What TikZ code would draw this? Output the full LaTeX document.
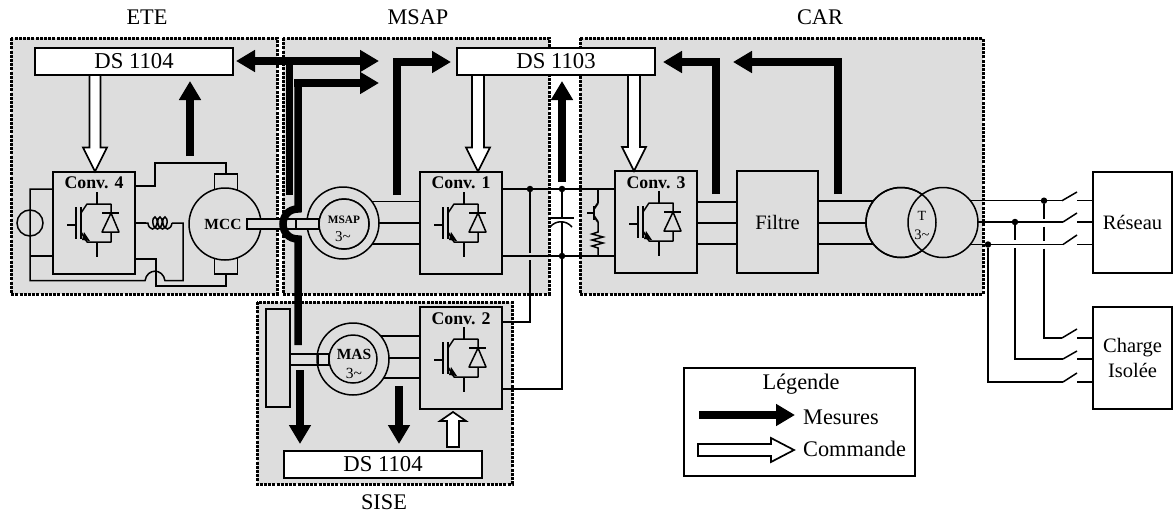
\documentclass[tikz,border=0pt]{standalone}
\usepackage{fontspec}
\setmainfont{Liberation Serif}
\usetikzlibrary{arrows.meta,calc,decorations.pathmorphing}
\definecolor{panel}{HTML}{DDDDDD}
\newcommand{\fs}[1]{\fontsize{#1}{#1}\selectfont}
\newcommand{\tril}{3\string~}
\tikzset{
  zone/.style={fill=panel,draw=black,line width=3pt,dash pattern=on 3pt off 1.2pt},
  wire/.style={line width=1.5pt},
  box/.style={draw=black,line width=1.6pt,inner sep=0pt,outer sep=0pt,anchor=north west},
  convbox/.style={box,fill=panel,minimum width=82pt,minimum height=102pt},
  dsbox/.style={box,fill=white,minimum width=198pt,minimum height=27pt,font=\fs{22.7}},
  dot/.style={circle,fill=black,inner sep=0pt,minimum size=6.5pt},
  ring/.style={circle,draw=black,line width=1.5pt,fill=panel,inner sep=0pt,outer sep=0pt},
  shaft/.style={draw=black,line width=1.5pt,fill=panel},
  meas/.style={line width=7.5pt,draw=black,-{Triangle[length=19pt,width=21pt]}},
  measb/.style={line width=7.5pt,draw=black,{Triangle[length=19pt,width=21pt]}-{Triangle[length=19pt,width=21pt]}},
  measl/.style={line width=7.5pt,draw=black},
  cmd/.style={draw=black,line width=1.7pt,fill=white,line join=miter},
  lab/.style={inner sep=0pt,font=\fs{22.3}},
  convlab/.style={inner sep=0pt,font=\fs{17.8}\bfseries},
}
\newcommand{\igbt}[2]{%
\begin{scope}[shift={(#1,#2)},wire,line join=round]
  \draw (44,20) -- (44,32);
  \draw (44,70) -- (44,85);
  \draw (14,53) -- (23,53);
  \draw (23,35) -- (23,67);
  \draw[line width=2pt] (28,35) -- (28,67);
  \draw (28,41) -- (34,32) -- (58,32) -- (58,41);
  \draw (49,41) -- (66,41);
  \draw (58,41) -- (49,60) -- (66,60) -- cycle;
  \draw (58,60) -- (58,70) -- (34,70) -- (28,60);
  \fill (31,60) -- (37,69) -- (29,68) -- cycle;
\end{scope}}
\newcommand{\cmdarrow}[5]{%
  \draw[cmd] ($(#1)!#3!90:(#2)$) -- ($($(#2)!#5!(#1)$)!#3!90:(#2)$) -- ($($(#2)!#5!(#1)$)!#4!90:(#2)$) -- (#2)
   -- ($($(#2)!#5!(#1)$)!#4!-90:(#2)$) -- ($($(#2)!#5!(#1)$)!#3!-90:(#2)$) -- ($(#1)!#3!-90:(#2)$) -- cycle;}
\begin{document}
\begin{tikzpicture}[x=1pt,y=-1pt]
\useasboundingbox (0,0) rectangle (1173,512);
% zones
\draw[zone] (11,38) rectangle (277,294);
\draw[zone] (283,38) rectangle (549,294);
\draw[zone] (580,38) rectangle (983,294);
\draw[zone] (257,302) rectangle (512,484);
% zone titles
\node[lab] (tete) at (147,17) {ETE};
\node[lab] (tmsap) at (418,17) {MSAP};
\node[lab] (tcar) at (820,17) {CAR};
\node[lab] (tsise) at (384,502) {SISE};
% boxes
\node[dsbox] (ds4) at (35,48) {DS 1104};
\node[dsbox] (ds3) at (457,48) {DS 1103};
\node[dsbox] (ds2) at (284,451) {DS 1104};
\node[convbox] (c4) at (53,172) {};
\node[convbox] (c1) at (420,172) {};
\node[convbox] (c3) at (615,171) {};
\node[convbox] (c2) at (420,307) {};
\node[box,fill=panel,minimum width=81pt,minimum height=102pt,font=\fs{20.5}] (filt) at (737,171) {Filtre};
\node[box,fill=white,minimum width=79pt,minimum height=101pt,font=\fs{20.5}] (res) at (1093,172) {Réseau};
\node[box,fill=white,minimum width=79pt,minimum height=102pt,font=\fs{20.5},align=center] (chg) at (1093,307) {Charge\\[5pt]Isolée};
\node[box,fill=white,minimum width=231pt,minimum height=108pt] (leg) at (684,368) {};
\node[box,draw=black,fill=panel,minimum width=24pt,minimum height=98pt] (fly) at (266,309) {};
% conv labels + switches
\node[convlab] (l4) at (94,183) {Conv. 4};
\node[convlab] (l1) at (461,183) {Conv. 1};
\node[convlab] (l3) at (656,183) {Conv. 3};
\node[convlab] (l2) at (461,319) {Conv. 2};
\igbt{53}{172}\igbt{420}{172}\igbt{615}{171}\igbt{420}{307}
% named junctions
\node[dot] (j1) at (530,189) {};
\node[dot] (j2) at (562,189) {};
\node[dot] (j3) at (562,256) {};
\node[dot] (j4) at (1044,200.7) {};
\node[dot] (j5) at (1015,222) {};
\node[dot] (j6) at (988,244.5) {};
\coordinate (brtop) at (226,174);
\coordinate (brbot) at (226,273);
% === wiring around Conv. 4
\node[circle,draw=black,line width=1.5pt,minimum size=26pt,inner sep=0pt] (src) at (30,223) {};
\coordinate (w1) at (53,189);
\coordinate (w2) at (53,256);
\draw[wire] (w1) -- (w1 -| src) -- (30,280.7) -- (145,280.7) .. controls (147,268) and (163,268) .. (165,280.7) -- (183,280.7) -- (183,223) -- (172,223);
\draw[wire] (w2) -- (w2 -| src);
\draw[wire,decorate,decoration={coil,aspect=0.55,segment length=5pt,amplitude=6pt}] (172,223) -- (146,223);
\draw[wire] (146,223) -- (135,223);
\draw[wire] (135,186) -- (155,186) -- (155,163) -- (226,163) -- (brtop);
\draw[wire] (135,259) -- (156,259) -- (156,286) -- (226,286) -- (brbot);
% MCC
\node[box,fill=panel,minimum width=23pt,minimum height=17pt] (bt) at (214.5,174) {};
\node[box,fill=panel,minimum width=23pt,minimum height=17pt] (bb) at (214.5,257) {};
\node[ring,minimum size=72pt] (mcc) at (225,224) {};
\node[inner sep=0pt,font=\fs{15.5}\bfseries] (lmcc) at (223,224) {MCC};
% shafts
\draw[shaft] (247,219) rectangle (319,229);
% MSAP wires
\coordinate (a1) at (420,201.7); \coordinate (a2) at (420,223); \coordinate (a3) at (420,244);
\draw[wire] (a1) -- (a1 -| 350,0);
\draw[wire] (a2) -- (a2 -| 350,0);
\draw[wire] (a3) -- (a3 -| 350,0);
\path[draw=black,line width=1.5pt,even odd rule,fill=panel] (343,223) circle[radius=36] (344,224) circle[radius=25];
\draw[shaft] (296,219) rectangle (319,229);
\node[ring,fill=panel,minimum size=50pt] (msapi) at (344,224) {};
\node[inner sep=0pt,font=\fs{11.3}\bfseries] (lmsap) at (344,220) {MSAP};
\node[inner sep=0pt,font=\fs{15}] (lm3) at (343,237) {\tril};
% bus
\draw[wire] (c1.east |- j1) -- (j1) -- (j2) -- (c3.west |- j2);
\draw[wire] (c1.east |- j3) -- (j3) -- (c3.west |- j3);
\coordinate (c2a) at (502,322);
\coordinate (c2b) at (502,389);
\draw[wire] (j1) -- ++(0,64) ++(0,7) -- (530,322) -- (c2a);
\draw[wire] (j2) -- (562,218);
\draw[wire] (550,218) -- (574,218);
\draw[wire] (550,227) .. controls (556,220) and (566,220) .. (572,227);
\draw[wire] (562,222) -- (j3) -- (562,389) -- (c2b);
% chopper
\draw[wire] (598,189) -- (598,203);
\draw[line width=2.4pt] (594,206) -- (594,220);
\draw[wire] (587,213) -- (594,213);
\draw[line width=2pt] (594,209) -- (598,203);
\draw[line width=2pt] (594,216) -- (598,222);
\draw[wire] (598,222) -- (598,232) -- (592,234) -- (603,237) -- (592,240) -- (603,243) -- (592,246) -- (598,248) -- (598,256);
% Conv3 - Filtre - Trafo
\draw[wire] (697,202) -- (737,202);
\draw[wire] (697,223) -- (737,223);
\draw[wire] (697,244) -- (737,244);
\coordinate (f1) at (818,201); \coordinate (f2) at (818,223); \coordinate (f3) at (818,244);
\draw[wire] (f1) -- (880,201);
\draw[wire] (f2) -- (880,223);
\draw[wire] (f3) -- (880,244);
\coordinate (sa1) at (1062,200.7); \coordinate (sa2) at (1063,222); \coordinate (sa3) at (1063,244.5);
\draw[wire] (960,200.7) -- (j4) -- (sa1);
\draw[wire] (960,222) -- (j5) -- (sa2);
\draw[wire] (960,244.5) -- (j6) -- (sa3);
\node[ring,minimum size=70pt] (tl) at (901,222.5) {};
\node[ring,minimum size=70pt] (tr) at (943,222.5) {};
\draw[line width=1.5pt] (tl.center) circle[radius=35];
\node[inner sep=0pt,font=\fs{14}] (lt) at (922,216) {T};
\node[inner sep=0pt,font=\fs{14.5}] (lt3) at (922,235) {\tril};
% switches
\coordinate (sb1) at (1062,338); \coordinate (sb2) at (1063,359); \coordinate (sb3) at (1063,382);
\draw[wire] (j4) -- ++(0,18) ++(0,8) -- ++(0,14) ++(0,8) -- (1044,338) -- (sb1);
\draw[wire] (j5) -- ++(0,18) ++(0,8) -- (1015,359) -- (sb2);
\draw[wire] (j6) -- (988,382) -- (sb3);
\draw[wire] (sa1) -- (1077,192); \draw[wire] (sa2) -- (1077,213); \draw[wire] (sa3) -- (1077,235);
\draw[wire] (sb1) -- (1077,329); \draw[wire] (sb2) -- (1077,351); \draw[wire] (sb3) -- (1077,373);
\draw[wire] (1077,200.7) -- (res.west |- j4);
\draw[wire] (1077,222) -- (res.west |- j5);
\draw[wire] (1077,244.5) -- (res.west |- j6);
\draw[wire] (1077,338) -- (chg.west |- sb1);
\draw[wire] (1077,359) -- (chg.west |- sb2);
\draw[wire] (1077,382) -- (chg.west |- sb3);
% SISE
\draw[shaft] (290,354) rectangle (329,365);
\coordinate (b1) at (420,336); \coordinate (b2) at (420,358); \coordinate (b3) at (420,378);
\draw[wire] (b1) -- (360,336);
\draw[wire] (b2) -- (360,358);
\draw[wire] (b3) -- (360,378);
\path[draw=black,line width=1.5pt,fill=panel] (353,359) circle[radius=36];
\draw[shaft] (318,354) rectangle (329,365);
\node[ring,minimum size=48pt] (masi) at (353,359) {};
\node[inner sep=0pt,font=\fs{15.5}\bfseries] (lmas) at (354,354) {MAS};
\node[inner sep=0pt,font=\fs{15.5}] (lm2) at (354,373) {\tril};
% thick measurement lines
\coordinate (ta) at (236,61); \coordinate (tb) at (379,61);
\draw[measb] (ta) -- (tb);
\coordinate (tc) at (289.5,61); \coordinate (td) at (289.5,195);
\draw[measl] (tc) -- (td);
\coordinate (te) at (379,83);
\draw[measl] (298,345) -- (298,239) .. controls (278,239) and (278,209) .. (298,209) -- (298,83);
\draw[meas] (298,83) ++(-3.7,0) -- (te);
\coordinate (tf) at (397,195); \coordinate (tg) at (451,62);
\draw[meas] (tf) -- (397,62) -- (tg);
\coordinate (th) at (190,156); \coordinate (ti) at (190,81);
\draw[meas] (th) -- (ti);
\coordinate (tj) at (562,182); \coordinate (tk) at (562,81);
\draw[meas] (tj) -- (tk);
\coordinate (tl2) at (716,194); \coordinate (tm) at (663,62);
\draw[meas] (tl2) -- (716,62) -- (tm);
\coordinate (tn) at (838,194); \coordinate (to2) at (733,62);
\draw[meas] (tn) -- (838,62) -- (to2);
\coordinate (tp) at (300,370); \coordinate (tq) at (300,444);
\draw[meas] (tp) -- (tq);
\coordinate (tr2) at (399,386); \coordinate (ts) at (399,444);
\draw[meas] (tr2) -- (ts);
% command arrows
\coordinate (u1) at (95,75); \coordinate (u2) at (95,171.5);
\cmdarrow{u1}{u2}{5.5pt}{12pt}{24pt}
\coordinate (u3) at (478,75); \coordinate (u4) at (478,171.5);
\cmdarrow{u3}{u4}{6pt}{12pt}{24pt}
\coordinate (u5) at (634,75); \coordinate (u6) at (634,171);
\cmdarrow{u5}{u6}{6pt}{12pt}{24pt}
\coordinate (u7) at (453,447); \coordinate (u8) at (453,412);
\cmdarrow{u7}{u8}{6pt}{13pt}{9pt}
% legend
\node[lab] (lg) at (801,384) {Légende};
\coordinate (v1) at (699,415); \coordinate (v2) at (795,415);
\draw[meas] (v1) -- (v2);
\coordinate (v3) at (698,450); \coordinate (v4) at (794,450);
\cmdarrow{v3}{v4}{6pt}{12pt}{23pt}
\node[lab,anchor=west] (lm) at (803,417) {Mesures};
\node[lab,anchor=west] (lc) at (803,449) {Commande};
\end{tikzpicture}
\end{document}
